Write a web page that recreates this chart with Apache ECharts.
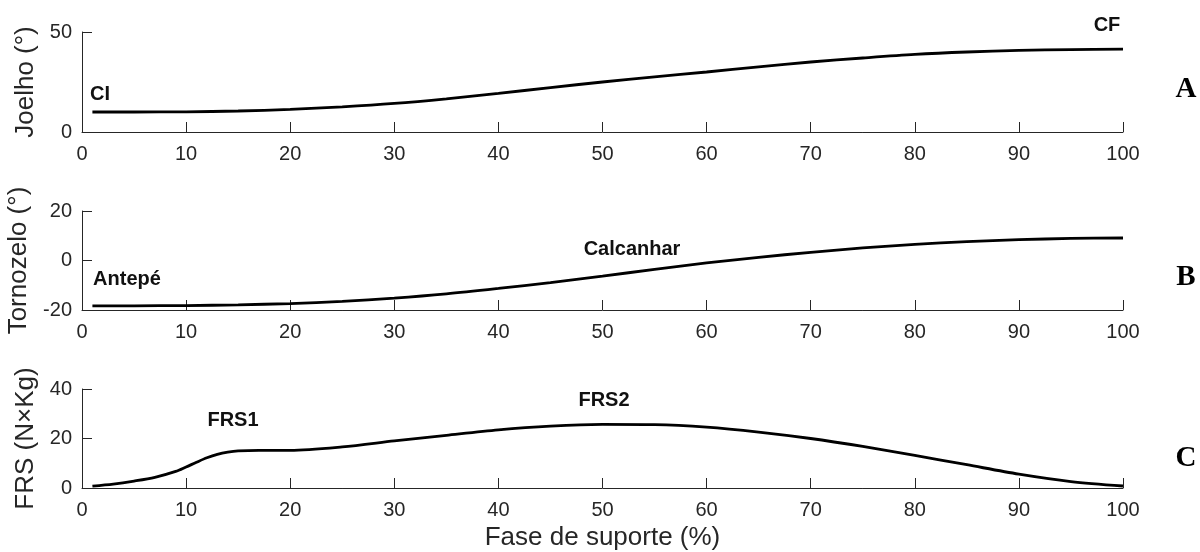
<!DOCTYPE html>
<html>
<head>
<meta charset="utf-8">
<script src="https://cdn.jsdelivr.net/npm/echarts@6/dist/echarts.min.js"></script>
<style>
  html, body { margin: 0; padding: 0; background: #fff; }
  #chart { width: 1200px; height: 552px; }
</style>
</head>
<body>
<div id="chart"></div>
<script>
// Support phase (% of stance)
const phaseAB = [1, 5, 10, 15, 20, 25, 30, 35, 40, 45, 50, 55, 60, 65, 70, 75, 80, 85, 90, 95, 100];
// Knee angle (degrees)
const kneeAngle = [10, 10, 10.1, 10.5, 11.3, 12.6, 14.3, 16.6, 19.3, 22.2, 25, 27.6, 30, 32.6, 35, 37, 38.8, 40, 40.8, 41.2, 41.4];
// Ankle angle (degrees)
const ankleAngle = [-18.3, -18.3, -18.2, -17.9, -17.4, -16.5, -15.2, -13.5, -11.3, -8.9, -6.3, -3.6, -1.0, 1.3, 3.3, 5.1, 6.5, 7.6, 8.4, 8.9, 9.1];
// Ground reaction force (N x kg)
const phaseC = [1, 3, 5, 7, 9, 10, 11, 12, 13, 14, 15, 17, 20, 25, 30, 35, 40, 45, 50, 55, 60, 65, 70, 75, 80, 85, 90, 95, 100];
const grf = [0.8, 1.6, 2.8, 4.3, 6.7, 8.5, 10.4, 12.2, 13.6, 14.5, 15.0, 15.2, 15.2, 16.6, 19.0, 21.3, 23.5, 25.0, 25.7, 25.6, 24.6, 22.6, 20.0, 16.8, 13.2, 9.4, 5.6, 2.6, 0.8];

const xTicks = { min: 0, max: 100, interval: 10 };
const yTitles = ['Joelho (°)', 'Tornozelo (°)', 'FRS (N×Kg)'];
const yRanges = [
  { min: 0, max: 50, interval: 50 },
  { min: -20, max: 20, interval: 20 },
  { min: 0, max: 40, interval: 20 }
];

const ink = '#262626';
const sans = '"Liberation Sans", Arial, sans-serif';
const serif = '"Liberation Serif", "Times New Roman", serif';

const pair = (xs, ys) => xs.map((x, i) => [x, ys[i]]);

const grids = [
  { left: 82, right: 77, top: 32, height: 100, outerBoundsMode: 'none', containLabel: false },
  { left: 82, right: 77, top: 211, height: 99, outerBoundsMode: 'none', containLabel: false },
  { left: 82, right: 77, top: 389, height: 99, outerBoundsMode: 'none', containLabel: false }
];

const axisCommon = {
  axisLine: { show: true, onZero: false, lineStyle: { color: ink, width: 1 } },
  axisTick: { show: true, inside: true, length: 10, lineStyle: { color: ink, width: 1 } },
  splitLine: { show: false },
  axisLabel: { color: ink, fontSize: 20, fontFamily: sans }
};

const xAxes = grids.map((g, i) => Object.assign({}, axisCommon, {
  type: 'value', gridIndex: i,
  min: xTicks.min, max: xTicks.max, interval: xTicks.interval,
  axisLabel: Object.assign({}, axisCommon.axisLabel, { margin: 12 }),
  name: i === 2 ? 'Fase de suporte (%)' : '',
  nameLocation: 'middle', nameGap: 37,
  nameTextStyle: { color: ink, fontSize: 26, fontFamily: sans }
}));

const yAxes = grids.map((g, i) => Object.assign({}, axisCommon, {
  type: 'value', gridIndex: i,
  min: yRanges[i].min, max: yRanges[i].max, interval: yRanges[i].interval,
  axisLabel: Object.assign({}, axisCommon.axisLabel, { margin: 10 }),
  name: yTitles[i],
  nameLocation: 'middle', nameGap: 42,
  nameTextStyle: { color: ink, fontSize: 26, fontFamily: sans }
}));

const lineStyle = { color: '#000', width: 2.8 };
const seriesData = [pair(phaseAB, kneeAngle), pair(phaseAB, ankleAngle), pair(phaseC, grf)];
const series = seriesData.map((d, i) => ({
  type: 'line', xAxisIndex: i, yAxisIndex: i,
  data: d, smooth: 0.3, showSymbol: false, symbol: 'none',
  lineStyle: lineStyle, silent: true, animation: false
}));

function note(text, x, y) {
  return {
    type: 'text', x: x, y: y,
    style: { text: text, fill: '#111', font: 'bold 20px ' + sans, textAlign: 'center', textVerticalAlign: 'middle' }
  };
}
function panelTag(text, x, y) {
  return {
    type: 'text', x: x, y: y,
    style: { text: text, fill: '#000', font: 'bold 29px ' + serif, textAlign: 'center', textVerticalAlign: 'middle' }
  };
}

const chart = echarts.init(document.getElementById('chart'), null, { renderer: 'canvas' });
chart.setOption({
  animation: false,
  backgroundColor: '#fff',
  grid: grids,
  xAxis: xAxes,
  yAxis: yAxes,
  series: series,
  graphic: [
    note('CI', 100, 94),
    note('CF', 1107, 25),
    note('Antepé', 127, 279),
    note('Calcanhar', 632, 249),
    note('FRS1', 233, 420),
    note('FRS2', 604, 400),
    panelTag('A', 1186, 90),
    panelTag('B', 1186, 278),
    panelTag('C', 1186, 459)
  ]
});
</script>
</body>
</html>
